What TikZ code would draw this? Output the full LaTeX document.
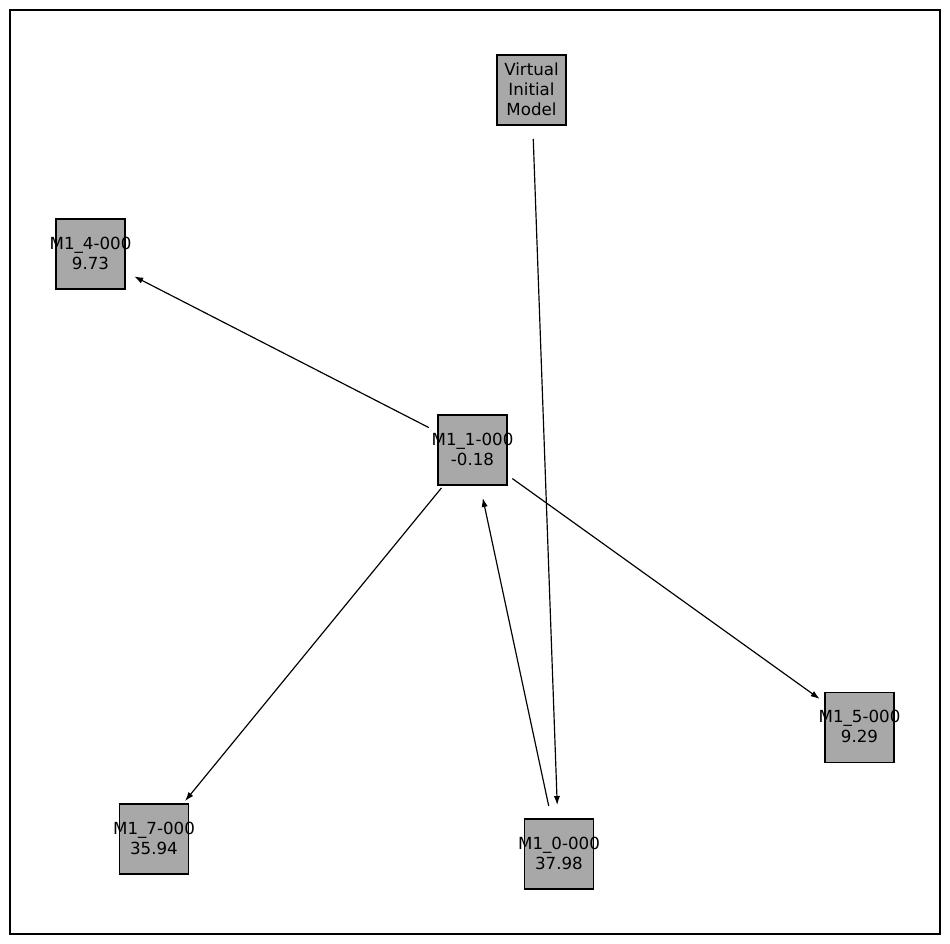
\documentclass[tikz,border=0pt]{standalone}
\usepackage{fontspec}
\setmainfont{DejaVu Sans}
\usetikzlibrary{arrows.meta}
\definecolor{boxgray}{RGB}{168,168,168}
\tikzset{
  px/.style={x=0.72pt,y=-0.72pt},
  modelbox/.style={draw=black, fill=boxgray, line width=0.75pt, minimum width=49.7pt, minimum height=50.4pt, inner sep=0pt, outer sep=0pt},
  lbl/.style={align=center, font=\fontsize{12}{14.4}\selectfont, inner sep=0pt, yshift=0.7pt},
  edge/.style={-{Latex[length=6.5pt,width=4.5pt]}, line width=0.85pt, shorten >=35.3pt, shorten <=35.3pt}
}
\begin{document}
\begin{tikzpicture}[px]
\useasboundingbox (0,0) rectangle (950,944);
\draw[line width=0.75pt] (10,10) rectangle (940,934);
\node[modelbox, label={[lbl]center:Virtual\\Initial\\Model}] (v) at (531.5,90) {};
\node[modelbox, label={[lbl]center:M1\_4-000\\9.73}] (m4) at (90.5,254) {};
\node[modelbox, label={[lbl]center:M1\_1-000\\-0.18}] (m1) at (472.5,450) {};
\node[modelbox, label={[lbl]center:M1\_5-000\\9.29}] (m5) at (859.5,727.5) {};
\node[modelbox, label={[lbl]center:M1\_7-000\\35.94}] (m7) at (154,839) {};
\node[modelbox, label={[lbl]center:M1\_0-000\\37.98}] (m0) at (559,854) {};
\draw[edge] (v.center) -- (m0.center);
\draw[edge] (m1.center) -- (m4.center);
\draw[edge] (m1.center) -- (m5.center);
\draw[edge] (m1.center) -- (m7.center);
\draw[edge] (m0.center) -- (m1.center);
\end{tikzpicture}
\end{document}
